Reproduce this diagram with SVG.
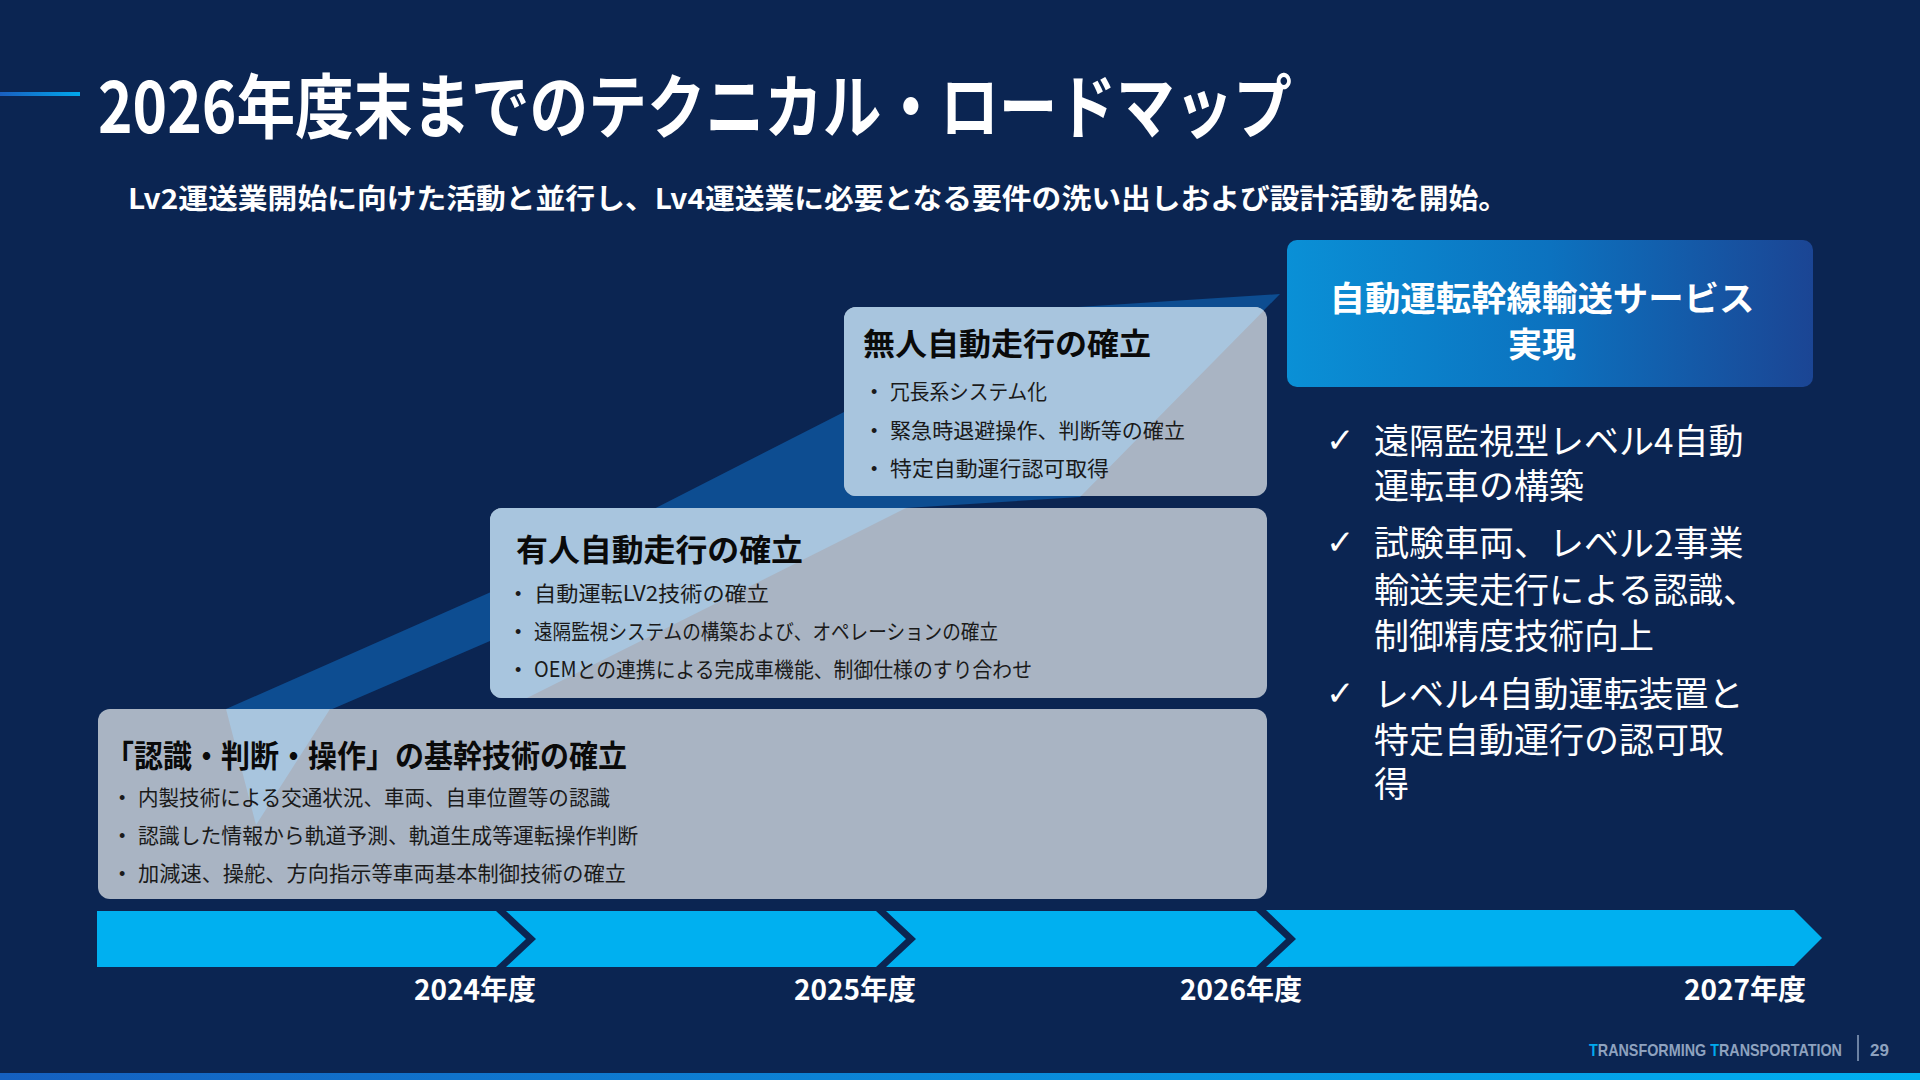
<svg xmlns="http://www.w3.org/2000/svg" width="1920" height="1080" viewBox="0 0 1920 1080">
  <defs>
    <style>
      .jp { font-family: "Noto Sans CJK JP", "Noto Sans", sans-serif; }
      .ttl { font-weight: 700; fill: #ffffff; }
      .boxttl { font-weight: 700; font-size: 31px; fill: #0a0a0a; }
      .item { font-size: 21px; fill: #1a1a1a; }
      .dot { font-family: "Liberation Sans", sans-serif; font-size: 18px; fill: #1a1a1a; }
      .box { fill: #a9b4c3; }
      .chk { font-size: 35px; fill: #ffffff; }
      .mark { font-family: "DejaVu Sans", sans-serif; font-size: 34px; fill: #ffffff; }
      .year { font-weight: 700; font-size: 28px; fill: #ffffff; text-anchor: end; }
      .seg { fill: #00b0f0; }
      .foot { font-family: "Liberation Sans", sans-serif; font-size: 17px; font-weight: 700; fill: #8ea2bf; }
    </style>
    <linearGradient id="goalGrad" x1="0" y1="0" x2="1" y2="0">
      <stop offset="0" stop-color="#0a90d6"/>
      <stop offset="0.5" stop-color="#0c72bf"/>
      <stop offset="1" stop-color="#1b4594"/>
    </linearGradient>
    <linearGradient id="stripeGrad" x1="0" y1="0" x2="1" y2="0">
      <stop offset="0" stop-color="#1560c0"/>
      <stop offset="1" stop-color="#00b0f0"/>
    </linearGradient>
    <linearGradient id="accentGrad" x1="0" y1="0" x2="1" y2="0">
      <stop offset="0" stop-color="#1a5fc0"/>
      <stop offset="1" stop-color="#00a8ec"/>
    </linearGradient>
    <clipPath id="boxClip">
      <rect x="98" y="709" width="1169" height="190" rx="12"/>
      <rect x="490" y="508" width="777" height="190" rx="12"/>
      <rect x="844" y="307" width="423" height="189" rx="12"/>
    </clipPath>
  </defs>

  <rect x="0" y="0" width="1920" height="1080" fill="#0b2552"/>

  <!-- header -->
  <g id="header">
    <rect x="0" y="92" width="80" height="4" fill="url(#accentGrad)"/>
    <text class="jp ttl" x="98" y="133" font-size="70" textLength="1194" lengthAdjust="spacingAndGlyphs">2026年度末までのテクニカル・ロードマップ</text>
    <text class="jp ttl" x="128" y="209" font-size="28" textLength="1380" lengthAdjust="spacingAndGlyphs">Lv2運送業開始に向けた活動と並行し、Lv4運送業に必要となる要件の洗い出しおよび設計活動を開始。</text>
  </g>

  <!-- rising band behind the boxes -->
  <g id="band-back">
    <polygon points="256,825 226,709 491,592 844,412 1078,307 1280,294 1080,497 906,508 700,590 490,641 330,710" fill="#0d4d91"/>
  </g>

  <g id="box1">
    <rect class="box" x="98" y="709" width="1169" height="190" rx="12"/>
  </g>
  <g id="box2">
    <rect class="box" x="490" y="508" width="777" height="190" rx="12"/>
  </g>
  <g id="box3">
    <rect class="box" x="844" y="307" width="423" height="189" rx="12"/>
  </g>

  <g id="band-front" clip-path="url(#boxClip)">
    <polygon points="256,825 226,709 226,290 1280,290 1280,294 1080,497 906,508 527,698 330,709" fill="#a8c5de"/>
  </g>

  <g id="box1-text" class="jp">
    <text class="boxttl" x="105" y="767" textLength="522" lengthAdjust="spacingAndGlyphs">「認識・判断・操作」の基幹技術の確立</text>
    <text class="dot" x="119" y="804">•</text>
    <text class="item" x="138" y="805" textLength="472" lengthAdjust="spacingAndGlyphs">内製技術による交通状況、車両、自車位置等の認識</text>
    <text class="dot" x="119" y="842">•</text>
    <text class="item" x="138" y="843" textLength="500" lengthAdjust="spacingAndGlyphs">認識した情報から軌道予測、軌道生成等運転操作判断</text>
    <text class="dot" x="119" y="880">•</text>
    <text class="item" x="138" y="881" textLength="488" lengthAdjust="spacingAndGlyphs">加減速、操舵、方向指示等車両基本制御技術の確立</text>
  </g>

  <g id="box2-text" class="jp">
    <text class="boxttl" x="516" y="561" textLength="287" lengthAdjust="spacingAndGlyphs">有人自動走行の確立</text>
    <text class="dot" x="515" y="600">•</text>
    <text class="item" x="534" y="601" textLength="235" lengthAdjust="spacingAndGlyphs">自動運転LV2技術の確立</text>
    <text class="dot" x="515" y="638">•</text>
    <text class="item" x="534" y="639" textLength="464" lengthAdjust="spacingAndGlyphs">遠隔監視システムの構築および、オペレーションの確立</text>
    <text class="dot" x="515" y="676">•</text>
    <text class="item" x="534" y="677" textLength="498" lengthAdjust="spacingAndGlyphs">OEMとの連携による完成車機能、制御仕様のすり合わせ</text>
  </g>

  <g id="box3-text" class="jp">
    <text class="boxttl" x="863" y="355" textLength="288" lengthAdjust="spacingAndGlyphs">無人自動走行の確立</text>
    <text class="dot" x="871" y="398">•</text>
    <text class="item" x="890" y="399" textLength="157" lengthAdjust="spacingAndGlyphs">冗長系システム化</text>
    <text class="dot" x="871" y="437">•</text>
    <text class="item" x="890" y="438" textLength="295" lengthAdjust="spacingAndGlyphs">緊急時退避操作、判断等の確立</text>
    <text class="dot" x="871" y="475">•</text>
    <text class="item" x="890" y="476" textLength="219" lengthAdjust="spacingAndGlyphs">特定自動運行認可取得</text>
  </g>

  <!-- goal box -->
  <g id="goal">
    <rect x="1287" y="240" width="526" height="147" rx="10" fill="url(#goalGrad)"/>
    <text class="jp ttl" x="1542" y="311" font-size="34" text-anchor="middle" textLength="425" lengthAdjust="spacingAndGlyphs">自動運転幹線輸送サービス</text>
    <text class="jp ttl" x="1542" y="357" font-size="34" text-anchor="middle">実現</text>
  </g>

  <g id="checklist" class="jp">
    <text class="mark" x="1326" y="452">✓</text>
    <text class="chk" x="1374" y="454">遠隔監視型レベル4自動</text>
    <text class="chk" x="1374" y="499">運転車の構築</text>
    <text class="mark" x="1326" y="554">✓</text>
    <text class="chk" x="1374" y="556">試験車両、レベル2事業</text>
    <text class="chk" x="1374" y="603">輸送実走行による認識、</text>
    <text class="chk" x="1374" y="649">制御精度技術向上</text>
    <text class="mark" x="1326" y="705">✓</text>
    <text class="chk" x="1374" y="707">レベル4自動運転装置と</text>
    <text class="chk" x="1374" y="753">特定自動運行の認可取</text>
    <text class="chk" x="1374" y="797">得</text>
  </g>

  <!-- timeline -->
  <g id="timeline">
    <polygon class="seg" points="97,911 496,911 526,939 496,967 97,967"/>
    <polygon class="seg" points="506,911 876,911 906,939 876,967 506,967 536,939"/>
    <polygon class="seg" points="886,911 1256,911 1286,939 1256,967 886,967 916,939"/>
    <polygon class="seg" points="1266,910 1794,910 1822,938 1794,966 1266,967 1296,939"/>
    <text class="jp year" x="536" y="1000">2024年度</text>
    <text class="jp year" x="916" y="1000">2025年度</text>
    <text class="jp year" x="1302" y="1000">2026年度</text>
    <text class="jp year" x="1806" y="1000">2027年度</text>
  </g>

  <!-- footer -->
  <g id="footer">
    <text class="foot" x="1589" y="1056" textLength="253" lengthAdjust="spacingAndGlyphs"><tspan fill="#00a9ee">T</tspan>RANSFORMING <tspan fill="#00a9ee">T</tspan>RANSPORTATION</text>
    <line x1="1858" y1="1035" x2="1858" y2="1061" stroke="#8ea2bf" stroke-width="1.5"/>
    <text class="foot" x="1870" y="1056" font-size="18">29</text>
    <rect x="0" y="1073" width="1920" height="7" fill="url(#stripeGrad)"/>
  </g>
</svg>
